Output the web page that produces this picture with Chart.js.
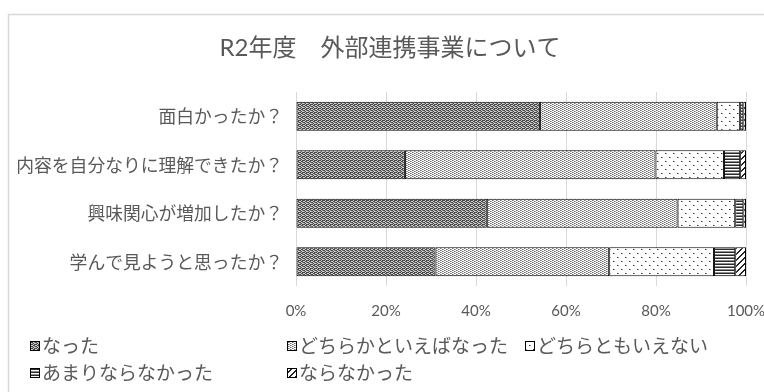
<!DOCTYPE html>
<html>
<head>
<meta charset="utf-8">
<script src="https://cdn.jsdelivr.net/npm/chart.js@4/dist/chart.umd.min.js"></script>
<style>
  body { margin: 0; background: #fff; }
  #wrap { width: 764px; height: 392px; position: relative; }
</style>
</head>
<body>
<div id="wrap"><canvas id="barChart"></canvas></div>
<script>
// ====================
// Data
// ====================

const chartTitle = "R2年度　外部連携事業について";

const questions = [
  "面白かったか？",
  "内容を自分なりに理解できたか？",
  "興味関心が増加したか？",
  "学んで見ようと思ったか？",
];

const answerNames = [
  "なった",
  "どちらかといえばなった",
  "どちらともいえない",
  "あまりならなかった",
  "ならなかった",
];

const yesValues = [54.2, 24.2, 42.4, 31.0];
const ratherYesValues = [39.3, 55.7, 42.4, 38.6];
const neutralValues = [5.2, 15.2, 12.8, 23.3];
const ratherNoValues = [0.7, 3.6, 1.8, 4.7];
const noValues = [0.6, 1.3, 0.6, 2.4];

const xTicks = [0, 20, 40, 60, 80, 100];

// ====================
// Fill patterns
// ====================

function makePattern(w, h, draw) {
  const c = document.createElement("canvas");
  c.width = w;
  c.height = h;
  const g = c.getContext("2d");
  draw(g);
  return g.createPattern(c, "repeat");
}

function px(g, color, cells) {
  g.fillStyle = color;
  cells.forEach(([x, y]) => g.fillRect(x, y, 1, 1));
}

// dark weave
const patYes = makePattern(4, 4, (g) => {
  g.fillStyle = "#484848";
  g.fillRect(0, 0, 4, 4);
  px(g, "#d0d0d0", [[1, 0], [3, 1], [1, 2], [3, 3], [0, 1], [2, 3]]);
  px(g, "#909090", [[2, 2], [0, 3]]);
});

// light dotted columns
const patRatherYes = makePattern(4, 4, (g) => {
  g.fillStyle = "#ffffff";
  g.fillRect(0, 0, 4, 4);
  px(g, "#707070", [[0, 0], [2, 1], [0, 2], [2, 3]]);
  px(g, "#a8a8a8", [[1, 0], [1, 2], [3, 1], [3, 3]]);
});

// sparse dots
const patNeutral = makePattern(8, 8, (g) => {
  g.fillStyle = "#ffffff";
  g.fillRect(0, 0, 8, 8);
  px(g, "#333333", [[1, 1], [5, 5]]);
  px(g, "#999999", [[2, 1], [6, 5]]);
});

// horizontal stripes
const patRatherNo = makePattern(2, 3, (g) => {
  g.fillStyle = "#ffffff";
  g.fillRect(0, 0, 2, 3);
  g.fillStyle = "#2a2a2a";
  g.fillRect(0, 0, 2, 1);
  g.fillStyle = "#8c8c8c";
  g.fillRect(0, 2, 2, 1);
});

// diagonal stripes
const patNo = makePattern(6, 6, (g) => {
  g.fillStyle = "#ffffff";
  g.fillRect(0, 0, 6, 6);
  g.fillStyle = "#222222";
  for (let i = 0; i < 6; i++) {
    g.fillRect(5 - i, i, 1, 1);
    g.fillRect((6 - i) % 6, i, 1, 1);
  }
});

const fills = [patYes, patRatherYes, patNeutral, patRatherNo, patNo];
const series = [yesValues, ratherYesValues, neutralValues, ratherNoValues, noValues];

const textColor = "#595959";
const jpFont = '"Noto Sans CJK JP", "Noto Sans", sans-serif';
const numFont = 'Lato, "Noto Sans CJK JP", sans-serif';

// ====================
// Plugins
// ====================

// light outline of the chart area + heading
const frame = {
  id: "frame",
  beforeDraw(chart) {
    const ctx = chart.ctx;
    ctx.save();
    ctx.fillStyle = "#fff";
    ctx.fillRect(0, 0, chart.width, chart.height);
    ctx.strokeStyle = "#d9d9d9";
    ctx.lineWidth = 1.5;
    ctx.strokeRect(8.5, 14.5, 820, 420);

    ctx.font = "24px " + numFont;
    ctx.fillStyle = textColor;
    ctx.textAlign = "center";
    ctx.textBaseline = "middle";
    ctx.fillText(chartTitle, 390, 48);
    ctx.restore();
  },
};

// legend laid out in two rows under the axis
const legendRows = {
  id: "legendRows",
  afterDraw(chart) {
    const ctx = chart.ctx;
    const spots = [
      [30, 346],
      [287, 346],
      [525, 346],
      [30, 373],
      [287, 373],
    ];
    ctx.save();
    ctx.font = "19px " + jpFont;
    ctx.textBaseline = "middle";
    chart.data.datasets.forEach((ds, i) => {
      const [x, y] = spots[i];
      ctx.fillStyle = ds.backgroundColor;
      ctx.fillRect(x, y - 5, 10, 10);
      ctx.strokeStyle = "#000";
      ctx.lineWidth = 1;
      ctx.strokeRect(x + 0.5, y - 4.5, 9, 9);
      ctx.fillStyle = textColor;
      ctx.fillText(ds.label, x + 12, y);
    });
    ctx.restore();
  },
};

// ====================
// Bar Chart
// ====================

new Chart(document.getElementById("barChart"), {
  type: "bar",

  data: {
    labels: questions,

    datasets: series.map((vals, i) => ({
      label: answerNames[i],
      data: vals,
      backgroundColor: fills[i],
      borderColor: "#000000",
      borderWidth: 1,
      borderSkipped: false,
      barPercentage: 0.6,
      categoryPercentage: 1,
    })),
  },

  options: {
    indexAxis: "y",
    responsive: true,
    maintainAspectRatio: false,
    animation: false,

    layout: {
      padding: { top: 92, right: 18, bottom: 72, left: 0 },
    },

    plugins: {
      legend: { display: false },
      tooltip: { enabled: false },
    },

    scales: {
      x: {
        stacked: true,
        min: 0,
        max: 100,
        afterBuildTicks(scale) {
          scale.ticks = xTicks.map((v) => ({ value: v }));
        },
        afterFit(scale) {
          scale.height = 34;
          scale.paddingLeft = 0;
          scale.paddingRight = 0;
        },
        ticks: {
          color: textColor,
          font: { family: numFont, size: 15 },
          padding: 16,
          callback: (v) => v + "%",
        },
        grid: { color: "#d9d9d9", drawTicks: false },
        border: { display: false },
      },
      y: {
        stacked: true,
        afterFit(scale) {
          scale.width = 296;
          scale.paddingTop = 0;
          scale.paddingBottom = 0;
        },
        ticks: {
          color: textColor,
          font: { family: jpFont, size: 17.8 },
          padding: 5,
        },
        grid: { display: false },
        border: { display: false },
      },
    },
  },

  plugins: [frame, legendRows],
});
</script>
</body>
</html>
